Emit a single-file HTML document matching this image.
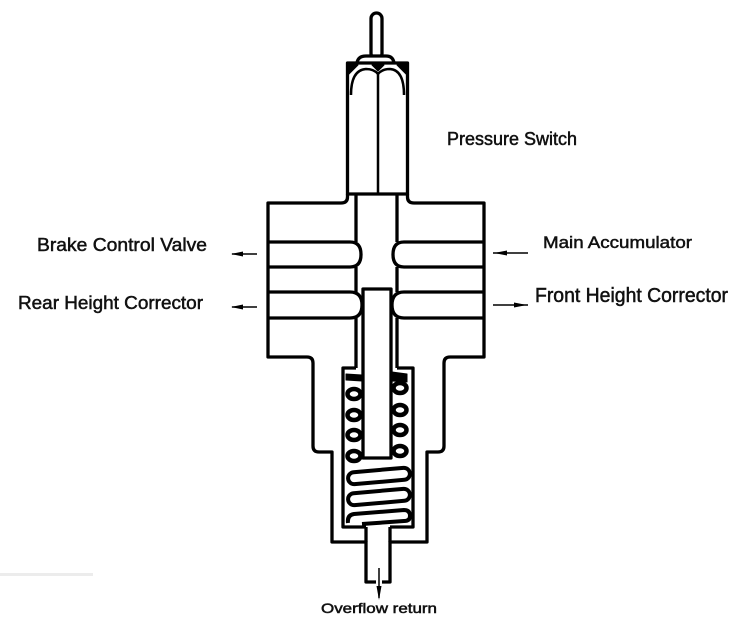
<!DOCTYPE html>
<html><head><meta charset="utf-8"><style>
html,body{margin:0;padding:0;background:#fff;}
svg{display:block;}
text{font-family:"Liberation Sans",sans-serif;fill:#111;stroke:#111;stroke-width:0.5;}
</style></head><body>
<svg width="750" height="630" viewBox="0 0 750 630" xmlns="http://www.w3.org/2000/svg">
<rect width="750" height="630" fill="#fff"/>
<rect x="0" y="573" width="93" height="3" fill="#ececec"/>
<g fill="none" stroke="#000" stroke-width="3.3" stroke-linejoin="round">
  <!-- rod -->
  <rect x="371" y="13" width="11" height="46" rx="5.5" fill="#fff"/>
  <!-- cap -->
  <path d="M357,63 Q358,56 366,56 H386 Q393,56 394,63" fill="#fff"/>
  <!-- housing -->
  <rect x="347.5" y="63" width="60" height="131"/>
  <path d="M351,95 Q351,70 366,69 Q374,69 378,74 Q382,69 390,69 Q404,70 404,95" stroke-width="2.5"/>
  <line x1="378" y1="72" x2="378" y2="194" stroke-width="2.5"/>
  <path d="M349,65 L358,65 L349,74 Z" fill="#000" stroke-width="1"/>
  <path d="M406,65 L397,65 L406,74 Z" fill="#000" stroke-width="1"/>
  <path d="M372,65 L384,65 L378,71 Z" fill="#000" stroke-width="1"/>
  <!-- body outline -->
  <path d="M347.5,194 V197 Q347.5,203 341,203 H268 V357 H307 Q313,357 313,363 V446 Q313,452 319,452 H332 V542 H366 V582 H376"/>
  <path d="M407.5,194 V197 Q407.5,203 414,203 H484 V357 H450 Q444,357 444,363 V446 Q444,452 438,452 H427 V542 H390 V582 H382"/>
  <!-- bore walls -->
  <line x1="356" y1="194" x2="356" y2="242"/>
  <line x1="356" y1="267" x2="356" y2="292"/>
  <line x1="356" y1="318" x2="356" y2="368"/>
  <line x1="397" y1="194" x2="397" y2="242"/>
  <line x1="397" y1="267" x2="397" y2="292"/>
  <line x1="397" y1="318" x2="397" y2="368"/>
  <!-- passages -->
  <path d="M268,242 H350 Q361,242 361,254.5 Q361,267 350,267 H268"/>
  <path d="M268,292 H350 Q362,292 362,305 Q362,318 350,318 H268"/>
  <path d="M484,242 H404 Q393,242 393,254.5 Q393,267 404,267 H484"/>
  <path d="M484,292 H404 Q392,292 392,305 Q392,318 404,318 H484"/>
  <!-- spring chamber -->
  <path d="M356,368 H343 V527 H366 M390,527 H413 V368 H397"/>
  <line x1="366" y1="527" x2="366" y2="542"/>
  <line x1="390" y1="527" x2="390" y2="542"/>
  <!-- plunger -->
  <rect x="363" y="289" width="28" height="169" fill="#fff"/>
  <!-- spring top blobs -->
  <path d="M346,374 L362,375 L362,381 L346,380 Z" fill="#000" stroke-width="1"/>
  <path d="M392,372 L407,374 L407,382 L392,381 Z" fill="#000" stroke-width="1"/>
  <!-- coils -->
  <g stroke-width="4.5" fill="#fff">
    <ellipse cx="354" cy="394" rx="6.5" ry="5"/>
    <ellipse cx="354" cy="415" rx="6.5" ry="5"/>
    <ellipse cx="354" cy="435" rx="6.5" ry="5"/>
    <ellipse cx="354" cy="456" rx="6.5" ry="5"/>
    <ellipse cx="400" cy="388" rx="6.5" ry="5"/>
    <ellipse cx="400" cy="410" rx="6.5" ry="5"/>
    <ellipse cx="400" cy="430" rx="6.5" ry="5"/>
    <ellipse cx="400" cy="451" rx="6.5" ry="5"/>
  </g>
  <g stroke-width="4" fill="#fff">
    <rect x="348" y="470" width="62" height="12" rx="6" transform="rotate(-5 379 476)"/>
    <rect x="348" y="491" width="62" height="12" rx="6" transform="rotate(-5 379 497)"/>
    <path d="M348,523 Q347,515 354,514 L404,510 Q410,510 410,516 Q410,521 404,521 L362,524"/>
  </g>
</g>
<!-- arrows -->
<g stroke="#000" stroke-width="1.5" fill="#000">
  <line x1="232" y1="254" x2="257" y2="254"/>
  <polygon points="231,254 243,251.5 243,256.5" stroke="none"/>
  <line x1="232" y1="307" x2="257" y2="307"/>
  <polygon points="231,307 243,304.5 243,309.5" stroke="none"/>
  <line x1="493" y1="253" x2="528" y2="253"/>
  <polygon points="494,253 507,250.5 507,255.5" stroke="none"/>
  <line x1="493" y1="305" x2="528" y2="305"/>
  <polygon points="527,305 514,302.5 514,307.5" stroke="none"/>
  <line x1="379" y1="568" x2="379" y2="598"/>
  <polygon points="379,600 376.5,586 381.5,586" stroke="none"/>
</g>
<!-- labels -->
<text x="447" y="145" font-size="18" textLength="130" lengthAdjust="spacingAndGlyphs">Pressure Switch</text>
<text x="37" y="251" font-size="18" textLength="170" lengthAdjust="spacingAndGlyphs">Brake Control Valve</text>
<text x="18" y="309" font-size="18" textLength="185" lengthAdjust="spacingAndGlyphs">Rear Height Corrector</text>
<text x="543" y="248" font-size="17" textLength="149" lengthAdjust="spacingAndGlyphs">Main Accumulator</text>
<text x="535" y="302" font-size="20" textLength="193" lengthAdjust="spacingAndGlyphs">Front Height Corrector</text>
<text x="321" y="613" font-size="14" textLength="116" lengthAdjust="spacingAndGlyphs">Overflow return</text>
</svg>
</body></html>
